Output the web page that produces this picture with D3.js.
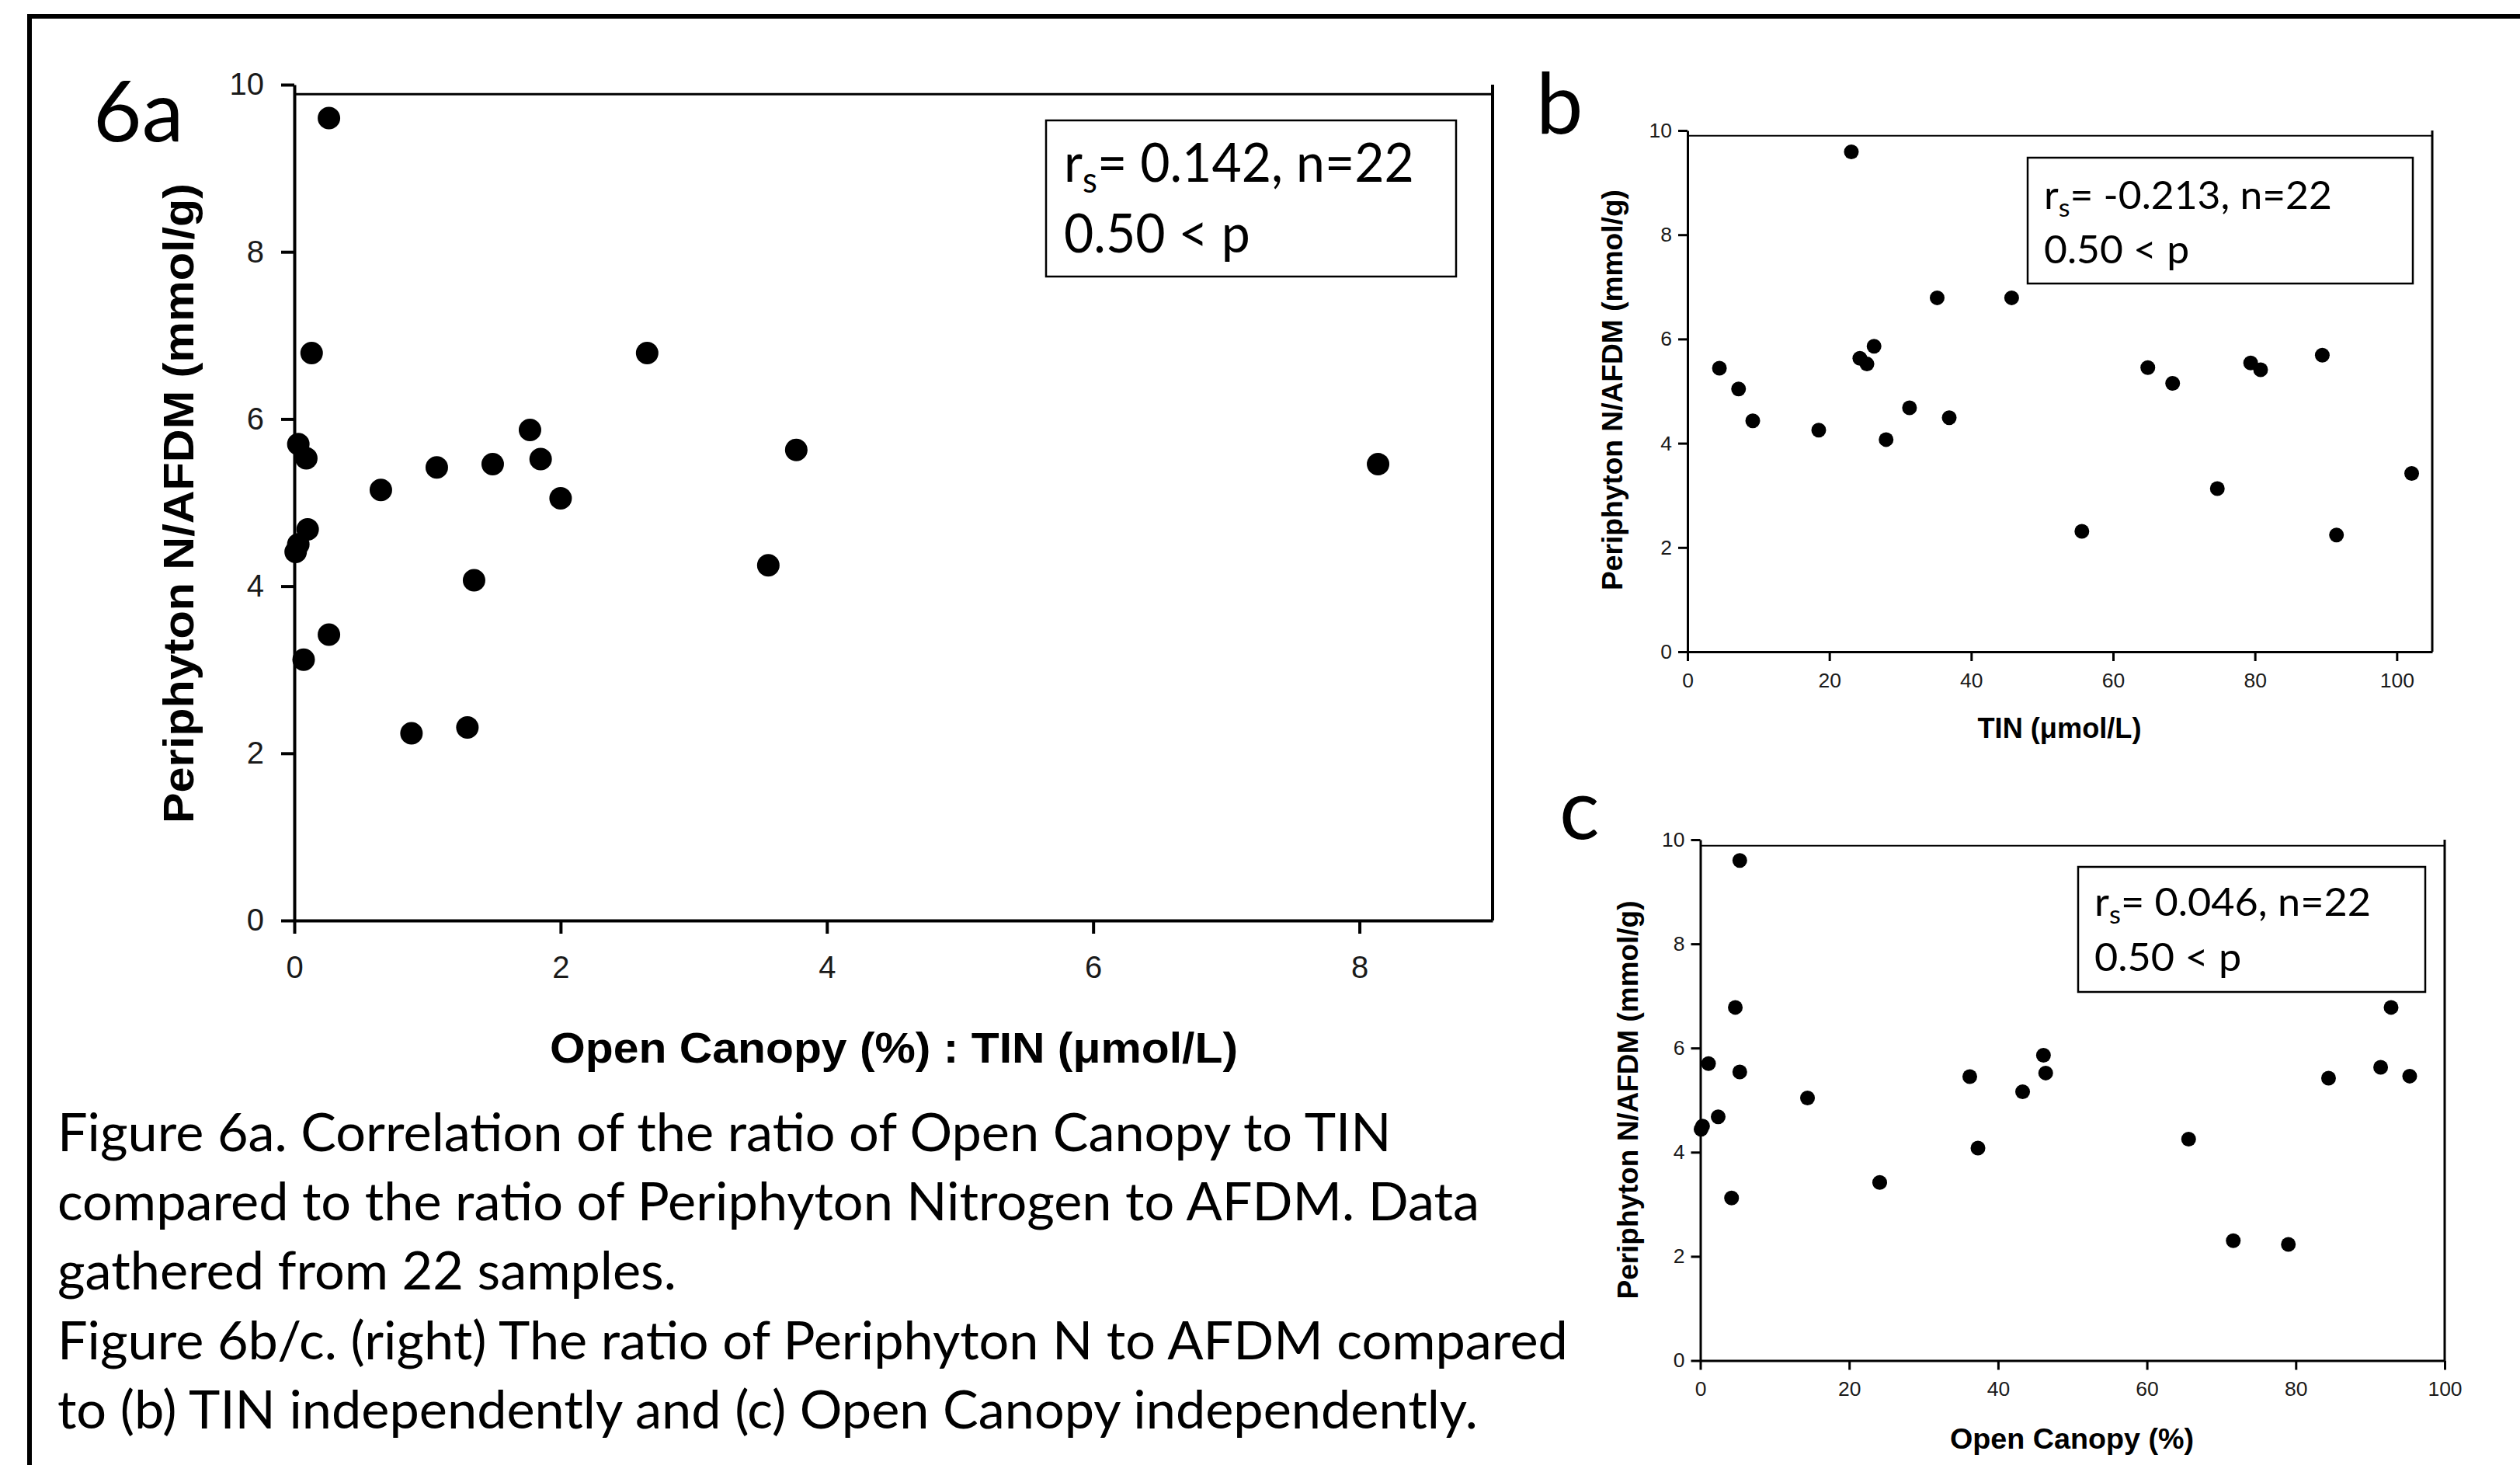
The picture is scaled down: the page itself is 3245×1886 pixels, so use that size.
<!DOCTYPE html>
<html>
<head>
<meta charset="utf-8">
<script src="https://cdn.jsdelivr.net/npm/d3@7"></script>
<style>
  body { margin: 0; background: #fff; }
</style>
</head>
<body>
<svg id="fig" width="3245" height="1886"></svg>
<script>
// values
const yTicks = [0, 2, 4, 6, 8, 10]
const ratioTicks = [0, 2, 4, 6, 8]
const tinTicks = [0, 20, 40, 60, 80, 100]
const canopyTicks = [0, 20, 40, 60, 80, 100]

// 6a  open canopy : TIN
const ratioX = [0.26, 0.13, 2.65, 0.03, 0.09, 1.77, 1.85, 3.77, 8.14, 1.07, 1.49, 0.65, 2.00, 0.10, 0.03, 0.01, 3.56, 1.35, 0.26, 0.07, 0.88, 1.30]
const ratioY = [9.60, 6.79, 6.79, 5.70, 5.53, 5.87, 5.52, 5.63, 5.46, 5.42, 5.46, 5.15, 5.05, 4.68, 4.50, 4.41, 4.25, 4.07, 3.42, 3.12, 2.24, 2.31]

// 6b  TIN
const tinX = [23.1, 35.2, 45.7, 26.3, 24.3, 25.3, 4.5, 89.5, 79.4, 80.8, 64.9, 68.4, 7.2, 31.3, 36.9, 9.2, 18.5, 28.0, 74.7, 102.1, 55.6, 91.5]
const tinY = [9.59, 6.79, 6.79, 5.86, 5.63, 5.52, 5.44, 5.69, 5.54, 5.41, 5.45, 5.15, 5.04, 4.68, 4.49, 4.43, 4.25, 4.07, 3.13, 3.42, 2.31, 2.24]

// 6c  open canopy
const canopyX = [5.3, 4.7, 92.8, 1.1, 5.3, 46.1, 46.4, 91.4, 95.3, 84.4, 36.2, 43.3, 14.4, 2.4, 0.3, 0.1, 65.6, 37.3, 24.1, 4.2, 71.6, 79.0]
const canopyY = [9.60, 6.78, 6.78, 5.70, 5.54, 5.86, 5.52, 5.63, 5.46, 5.42, 5.45, 5.16, 5.04, 4.68, 4.50, 4.44, 4.25, 4.08, 3.42, 3.12, 2.30, 2.23]

const yLabel = 'Periphyton N/AFDM (mmol/g)'
const caption = [
  'Figure 6a. Correlation of the ratio of Open Canopy to TIN',
  'compared to the ratio of Periphyton Nitrogen to AFDM. Data',
  'gathered from 22 samples.',
  'Figure 6b/c. (right) The ratio of Periphyton N to AFDM compared',
  'to (b) TIN independently and (c) Open Canopy independently.'
]

const svg = d3.select('#fig')
const sans = 'Liberation Sans, Arial, sans-serif'
const humanist = 'Lato, Open Sans, sans-serif'

// outer frame, right and bottom sides run off the page
svg.append('rect')
  .attr('x', 38).attr('y', 21)
  .attr('width', 3400).attr('height', 2000)
  .attr('fill', 'none').attr('stroke', '#000').attr('stroke-width', 6)

function panel (p) {
  const x = d3.scaleLinear().domain([0, p.xMax]).range([p.x0, p.x1])
  const y = d3.scaleLinear().domain([0, 10]).range([p.yBottom, p.yTop])
  const g = svg.append('g')

  const xAxis = g.append('g')
    .attr('transform', `translate(0,${p.yBottom})`)
    .call(d3.axisBottom(x).tickValues(p.xTicks).tickSize(p.tick).tickSizeOuter(0).tickPadding(p.padX))
  const yAxis = g.append('g')
    .attr('transform', `translate(${p.x0},0)`)
    .call(d3.axisLeft(y).tickValues(yTicks).tickSize(p.tick).tickSizeOuter(0).tickPadding(p.padY))

  ;[xAxis, yAxis].forEach(a => {
    a.attr('font-family', sans).attr('font-size', p.font)
    a.selectAll('path, line').attr('stroke', '#000').attr('stroke-width', p.stroke)
    a.selectAll('text').attr('fill', '#1a1a1a')
  })

  // top and right frame
  g.append('line')
    .attr('x1', p.x1).attr('x2', p.x1)
    .attr('y1', y(0)).attr('y2', y(10))
    .attr('stroke', '#000').attr('stroke-width', p.stroke)
  g.append('line')
    .attr('x1', p.x0).attr('x2', p.x1)
    .attr('y1', y(p.frameTop)).attr('y2', y(p.frameTop))
    .attr('stroke', '#000').attr('stroke-width', p.stroke - 1)

  g.selectAll('circle.dot').data(p.xs)
    .enter()
    .append('circle')
    .attr('class', 'dot')
    .attr('cx', d => x(d))
    .attr('cy', (d, i) => y(p.ys[i]))
    .attr('r', p.r)
    .attr('fill', '#000')

  // axis titles
  g.append('text')
    .attr('x', p.xt[0]).attr('y', p.xt[1])
    .attr('text-anchor', 'middle')
    .attr('font-family', sans).attr('font-weight', 'bold')
    .attr('font-size', p.titleSize)
    .attr('textLength', p.xt[2]).attr('lengthAdjust', 'spacingAndGlyphs')
    .text(p.xTitle)
  g.append('text')
    .attr('transform', `translate(${p.yt[0]},${p.yt[1]}) rotate(-90)`)
    .attr('text-anchor', 'middle')
    .attr('font-family', sans).attr('font-weight', 'bold')
    .attr('font-size', p.titleSize)
    .attr('textLength', p.yt[2]).attr('lengthAdjust', 'spacingAndGlyphs')
    .text(yLabel)

  // stats box
  const b = p.box
  g.append('rect')
    .attr('x', b[0]).attr('y', b[1])
    .attr('width', b[2] - b[0]).attr('height', b[3] - b[1])
    .attr('fill', '#fff').attr('stroke', '#000').attr('stroke-width', 2.5)
  const st = g.append('g').attr('font-family', humanist).attr('font-size', p.statSize)
  const l1 = st.append('text').attr('x', 0).attr('y', p.stat[1])
  l1.append('tspan').text('r')
  l1.append('tspan').attr('font-size', p.statSize * 0.66).attr('dy', p.statSize * 0.2).text('s')
  l1.append('tspan').attr('dy', -p.statSize * 0.2).text(p.stats)
  st.append('text').attr('x', 0).attr('y', p.stat[2]).text('0.50 < p')
  const sx = p.stat[3] / l1.node().getBBox().width
  st.attr('transform', `translate(${p.stat[0]},0) scale(${sx},1)`)

  // panel letter
  g.append('text')
    .attr('x', p.tag[0]).attr('y', p.tag[1])
    .attr('font-family', humanist).attr('font-size', 108)
    .text(p.tag[2])
}

panel({
  xs: ratioX, ys: ratioY, xTicks: ratioTicks, xMax: 9,
  x0: 379, x1: 1922, yBottom: 1185, yTop: 109, frameTop: 9.885,
  r: 14.5, tick: 17, stroke: 4, font: 40, padX: 29, padY: 22,
  xTitle: 'Open Canopy (%) : TIN (\u03bcmol/L)', titleSize: 56,
  xt: [1151, 1368, 886], yt: [249, 648, 824],
  box: [1347, 155, 1875, 356], statSize: 70, stats: '= 0.142, n=22', stat: [1370, 234, 325, 451],
  tag: [120, 182, '6a']
})

panel({
  xs: tinX, ys: tinY, xTicks: tinTicks, xMax: 105,
  x0: 2173, x1: 3132, yBottom: 839, yTop: 168, frameTop: 9.9,
  r: 9.5, tick: 12, stroke: 3, font: 26.5, padX: 15, padY: 8,
  xTitle: 'TIN (\u03bcmol/L)', titleSize: 37,
  xt: [2652, 950, 211], yt: [2089, 502, 516],
  box: [2611, 203, 3107, 365], statSize: 51, stats: '= -0.213, n=22', stat: [2632, 269, 339, 371],
  tag: [1978, 172, 'b']
})

panel({
  xs: canopyX, ys: canopyY, xTicks: canopyTicks, xMax: 100,
  x0: 2189.5, x1: 3148, yBottom: 1751.5, yTop: 1081, frameTop: 9.885,
  r: 9.5, tick: 12, stroke: 3, font: 26.5, padX: 15, padY: 8,
  xTitle: 'Open Canopy  (%)', titleSize: 37,
  xt: [2668, 1865, 314], yt: [2109, 1416, 513],
  box: [2676, 1116, 3123, 1277], statSize: 51, stats: '= 0.046, n=22', stat: [2697, 1179, 1250, 356],
  tag: [2008, 1080, 'c']
})

// caption, scaled so the longest line matches
const cap = svg.append('g').attr('font-family', humanist).attr('font-size', 67)
const rows = cap.selectAll('text').data(caption)
  .enter()
  .append('text')
  .attr('x', 0)
  .attr('y', (d, i) => 1482 + i * 89.2)
  .text(d => d)
const widest = d3.max(rows.nodes(), n => n.getBBox().width)
cap.attr('transform', `translate(74,0) scale(${1945 / widest},1)`)
</script>
</body>
</html>
